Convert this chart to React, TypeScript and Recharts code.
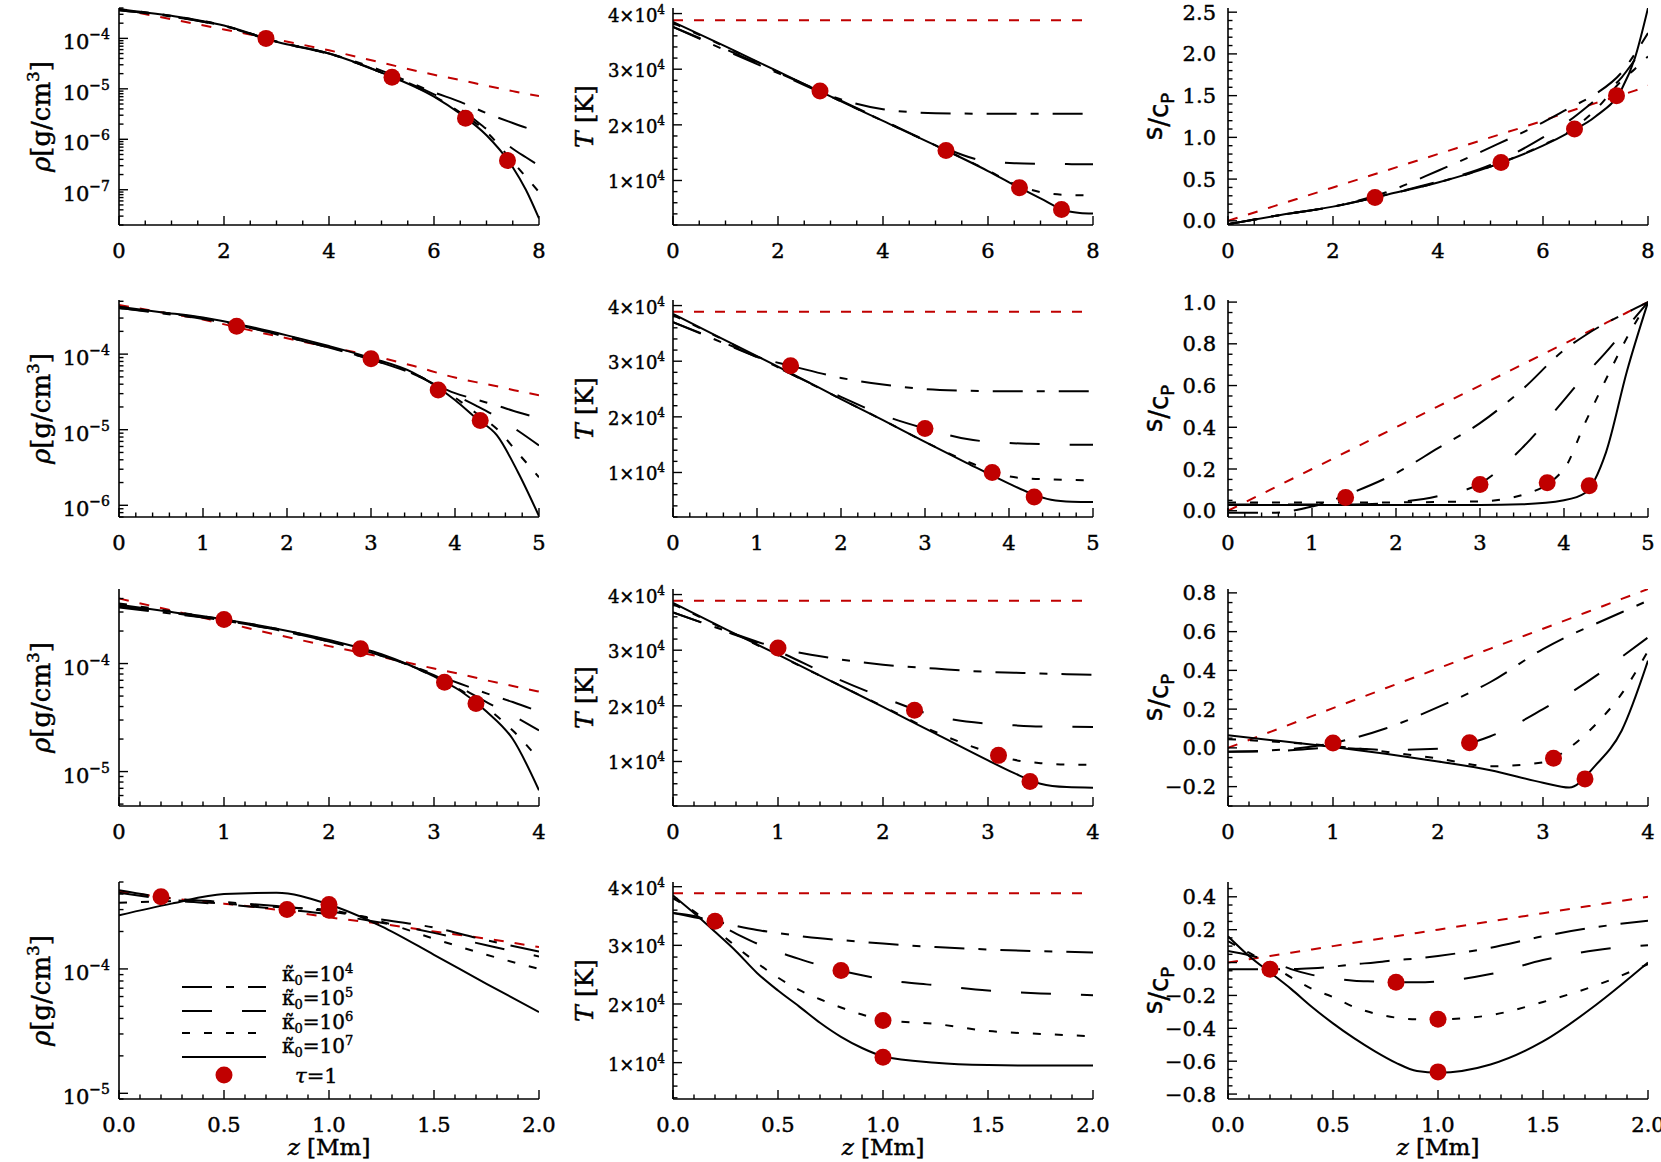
import React from "react";
import { ComposedChart, Line, Scatter, XAxis, YAxis } from "recharts";

const RED = "#c00000";
const SERIF = "'DejaVu Serif', serif";
const SANS = "'DejaVu Sans', sans-serif";

// curves in every panel are listed as [k0=1e4, 1e5, 1e6, 1e7, reference]

// ---- row 1, z = 0..8 Mm
const zRow1 = [0, 1, 2, 3, 4, 5, 6, 6.5, 7, 7.5, 7.75, 8];
const rhoRow1 = [
  [3.6e-4, 2.7e-4, 1.75e-4, 8.7e-5, 5.0e-5, 2.3e-5, 8.5e-6, 5.5e-6, 3.3e-6, 2.1e-6, 1.7e-6, 1.4e-6],
  [3.6e-4, 2.7e-4, 1.75e-4, 8.5e-5, 4.9e-5, 2.1e-5, 7.8e-6, 4.0e-6, 1.6e-6, 6.5e-7, 4.4e-7, 3.0e-7],
  [3.8e-4, 2.8e-4, 1.8e-4, 8.6e-5, 5.0e-5, 2.1e-5, 7.2e-6, 3.4e-6, 1.4e-6, 3.6e-7, 1.8e-7, 9.0e-8],
  [3.8e-4, 2.8e-4, 1.8e-4, 8.6e-5, 5.0e-5, 2.1e-5, 7.0e-6, 3.2e-6, 1.2e-6, 2.8e-7, 1.0e-7, 2.7e-8],
  [3.8e-4, 2.4e-4, 1.5e-4, 9.5e-5, 5.8e-5, 3.3e-5, 1.9e-5, 1.5e-5, 1.15e-5, 9.0e-6, 8.0e-6, 7.2e-6],
];
const tRow1 = [
  [37600, 33400, 29300, 25200, 22800, 22100, 22000, 22000, 22000, 22000, 22000, 22000],
  [37600, 33600, 29400, 25200, 20800, 16500, 13400, 13100, 13000, 12950, 12900, 12900],
  [38300, 34000, 29500, 25100, 20700, 16300, 11800, 9400, 7900, 7400, 7350, 7300],
  [38500, 34100, 29600, 25100, 20700, 16300, 11700, 9200, 6800, 4500, 4150, 4050],
  [38800, 38800, 38800, 38800, 38800, 38800, 38800, 38800, 38800, 38800, 38800, 38800],
];
const sRow1 = [
  [-0.04, 0.07, 0.17, 0.34, 0.6, 0.88, 1.18, 1.35, 1.52, 1.78, 2.0, 2.25],
  [-0.04, 0.07, 0.17, 0.31, 0.47, 0.67, 1.0, 1.2, 1.45, 1.72, 1.93, 2.15],
  [-0.04, 0.07, 0.17, 0.31, 0.46, 0.65, 0.91, 1.07, 1.33, 1.68, 1.82, 1.97],
  [-0.04, 0.07, 0.17, 0.31, 0.46, 0.65, 0.9, 1.06, 1.25, 1.58, 1.95, 2.55],
  [0, 0.2, 0.4, 0.6, 0.8, 1.0, 1.2, 1.31, 1.41, 1.51, 1.56, 1.62],
];
const tauZRow1 = [2.8, 5.2, 6.6, 7.4];
const rhoTau1 = [1.0e-4, 1.7e-5, 2.6e-6, 3.8e-7];
const tTau1 = [26100, 15400, 8700, 4800];
const sTau1 = [0.28, 0.7, 1.1, 1.5];

// ---- row 2, z = 0..5 Mm
const zRow2 = [0, 0.5, 1, 1.5, 2, 2.5, 3, 3.5, 4, 4.25, 4.5, 4.75, 5];
const rhoRow2 = [
  [4.09e-4, 3.47e-4, 2.92e-4, 2.32e-4, 1.68e-4, 1.22e-4, 8.5e-5, 5.5e-5, 3.05e-5, 2.51e-5, 2.08e-5, 1.7e-5, 1.42e-5],
  [4.09e-4, 3.53e-4, 2.98e-4, 2.32e-4, 1.68e-4, 1.22e-4, 8.5e-5, 5.5e-5, 2.86e-5, 2.08e-5, 1.47e-5, 9.7e-6, 6.2e-6],
  [4.22e-4, 3.59e-4, 2.98e-4, 2.32e-4, 1.74e-4, 1.24e-4, 8.7e-5, 5.6e-5, 2.66e-5, 1.66e-5, 1.02e-5, 4.9e-6, 2.35e-6],
  [4.22e-4, 3.59e-4, 3.05e-4, 2.38e-4, 1.77e-4, 1.28e-4, 8.9e-5, 5.7e-5, 2.47e-5, 1.42e-5, 8.4e-6, 2.74e-6, 7.2e-7],
  [4.47e-4, 3.59e-4, 2.86e-4, 2.14e-4, 1.62e-4, 1.24e-4, 9.6e-5, 7.0e-5, 4.9e-5, 4.26e-5, 3.75e-5, 3.25e-5, 2.86e-5],
];
const tRow2 = [
  [37000, 33900, 30800, 28800, 27000, 25800, 25000, 24700, 24600, 24600, 24600, 24600, 24600],
  [37000, 34000, 30700, 27000, 23600, 20300, 17900, 16000, 15300, 15150, 15050, 15000, 15000],
  [38300, 34600, 30800, 27000, 23200, 19400, 15500, 12000, 9300, 8900, 8750, 8650, 8600],
  [38500, 34700, 30900, 27100, 23200, 19400, 15500, 11700, 8000, 6300, 5100, 4750, 4700],
  [38900, 38900, 38900, 38900, 38900, 38900, 38900, 38900, 38900, 38900, 38900, 38900, 38900],
];
const sRow2 = [
  [-0.01, -0.01, 0.02, 0.09, 0.18, 0.3, 0.42, 0.58, 0.77, 0.84, 0.9, 0.95, 1.0],
  [0.03, 0.03, 0.03, 0.03, 0.04, 0.07, 0.13, 0.3, 0.53, 0.65, 0.76, 0.88, 1.0],
  [0.04, 0.04, 0.04, 0.04, 0.04, 0.042, 0.045, 0.075, 0.2, 0.42, 0.63, 0.83, 1.0],
  [0.028, 0.028, 0.028, 0.028, 0.028, 0.028, 0.028, 0.031, 0.05, 0.085, 0.28, 0.67, 1.0],
  [0, 0.1, 0.2, 0.3, 0.4, 0.5, 0.6, 0.7, 0.8, 0.85, 0.9, 0.95, 1.0],
];
const tauZRow2 = [1.4, 3.0, 3.8, 4.3];
const rhoTau2 = [2.33e-4, 8.7e-5, 3.35e-5, 1.32e-5];
const tTau2 = [29200, 17900, 10000, 5600];
const sTau2 = [0.063, 0.126, 0.134, 0.12];

// ---- row 3, z = 0..4 Mm
const zRow3 = [0, 0.5, 1, 1.5, 2, 2.5, 3, 3.25, 3.5, 3.75, 4];
const rhoRow3 = [
  [3.3e-4, 2.9e-4, 2.5e-4, 2.05e-4, 1.6e-4, 1.18e-4, 8.0e-5, 6.5e-5, 5.3e-5, 4.4e-5, 3.6e-5],
  [3.4e-4, 2.95e-4, 2.5e-4, 2.05e-4, 1.6e-4, 1.18e-4, 7.8e-5, 6.0e-5, 4.4e-5, 3.3e-5, 2.4e-5],
  [3.6e-4, 3.05e-4, 2.55e-4, 2.1e-4, 1.63e-4, 1.2e-4, 7.6e-5, 5.7e-5, 3.9e-5, 2.4e-5, 1.3e-5],
  [3.5e-4, 3.0e-4, 2.56e-4, 2.1e-4, 1.65e-4, 1.22e-4, 7.6e-5, 5.6e-5, 3.6e-5, 2.0e-5, 6.7e-6],
  [4.0e-4, 3.1e-4, 2.4e-4, 1.85e-4, 1.45e-4, 1.15e-4, 9.0e-5, 8.0e-5, 7.0e-5, 6.2e-5, 5.5e-5],
];
const tRow3 = [
  [36800, 33500, 30400, 28600, 27400, 26700, 26100, 25950, 25800, 25700, 25600],
  [36800, 33400, 29800, 25400, 21500, 18200, 16800, 16500, 16300, 16250, 16200],
  [38300, 33700, 29100, 24500, 19900, 15300, 11700, 10300, 9700, 9450, 9400],
  [38500, 33800, 29200, 24500, 19800, 15000, 10200, 7900, 6000, 5400, 5300],
  [38900, 38900, 38900, 38900, 38900, 38900, 38900, 38900, 38900, 38900, 38900],
];
const sRow3 = [
  [-0.02, -0.01, 0.025, 0.1, 0.21, 0.34, 0.51, 0.58, 0.64, 0.7, 0.76],
  [-0.02, -0.015, 0.0, -0.01, -0.005, 0.06, 0.2, 0.28, 0.37, 0.47, 0.57],
  [0.045, 0.03, 0.01, -0.02, -0.055, -0.095, -0.075, 0.0, 0.12, 0.28, 0.5],
  [0.065, 0.035, 0.005, -0.03, -0.07, -0.115, -0.18, -0.205, -0.09, 0.09, 0.45],
  [0, 0.1025, 0.205, 0.3075, 0.41, 0.5125, 0.615, 0.666, 0.7175, 0.769, 0.82],
];
const tauZRow3 = [1.0, 2.3, 3.1, 3.4];
const rhoTau3 = [2.56e-4, 1.37e-4, 6.7e-5, 4.27e-5];
const tTau3 = [30400, 19200, 11100, 6400];
const sTau3 = [0.025, 0.027, -0.054, -0.16];

// ---- row 4, z = 0..2 Mm
const zRho4 = [0, 0.25, 0.5, 0.75, 1, 1.25, 1.5, 1.75, 2];
const rhoRow4 = [
  [4.3e-4, 3.7e-4, 3.45e-4, 3.2e-4, 2.9e-4, 2.5e-4, 2.15e-4, 1.7e-4, 1.38e-4],
  [4.1e-4, 3.6e-4, 3.3e-4, 3.05e-4, 2.75e-4, 2.35e-4, 1.95e-4, 1.55e-4, 1.26e-4],
  [3.4e-4, 3.5e-4, 3.35e-4, 3.15e-4, 2.97e-4, 2.4e-4, 1.75e-4, 1.3e-4, 1.0e-4],
  [2.7e-4, 3.35e-4, 4.0e-4, 4.1e-4, 3.3e-4, 2.2e-4, 1.3e-4, 7.6e-5, 4.5e-5],
  [4.2e-4, 3.7e-4, 3.35e-4, 3.0e-4, 2.6e-4, 2.3e-4, 2.0e-4, 1.75e-4, 1.5e-4],
];
const zRow4 = [0, 0.1, 0.2, 0.3, 0.4, 0.5, 0.6, 0.7, 0.8, 0.9, 1.0, 1.25, 1.5, 1.75, 2];
const tRow4 = [
  [35500, 34800, 34100, 33300, 32600, 32100, 31600, 31200, 30900, 30600, 30300, 29700, 29300, 29000, 28800],
  [35500, 35000, 33800, 32000, 30300, 28900, 27700, 26600, 25700, 24900, 24200, 23200, 22300, 21800, 21500],
  [38000, 35800, 32800, 29800, 27000, 24500, 22400, 20800, 19400, 18200, 17300, 16600, 15400, 14900, 14500],
  [38500, 35500, 32300, 29000, 25300, 22300, 19600, 16800, 14400, 12500, 11100, 10000, 9600, 9500, 9500],
  [38900, 38900, 38900, 38900, 38900, 38900, 38900, 38900, 38900, 38900, 38900, 38900, 38900, 38900, 38900],
];
const sRow4 = [
  [-0.04, -0.04, -0.04, -0.04, -0.035, -0.025, -0.01, 0.0, 0.015, 0.025, 0.04, 0.09, 0.16, 0.215, 0.255],
  [0.07, 0.045, 0.01, -0.04, -0.075, -0.095, -0.11, -0.115, -0.12, -0.12, -0.115, -0.07, 0.015, 0.075, 0.105],
  [0.13, 0.06, -0.01, -0.09, -0.16, -0.21, -0.27, -0.31, -0.335, -0.345, -0.345, -0.32, -0.24, -0.14, -0.01],
  [0.16, 0.04, -0.06, -0.16, -0.27, -0.37, -0.46, -0.54, -0.61, -0.66, -0.67, -0.62, -0.48, -0.26, 0.0],
  [0, 0.02, 0.04, 0.06, 0.08, 0.1, 0.12, 0.14, 0.16, 0.18, 0.2, 0.25, 0.3, 0.35, 0.4],
];
const tauZRow4 = [0.2, 0.8, 1.0, 1.0];
const rhoTau4 = [3.8e-4, 3.0e-4, 2.97e-4, 3.3e-4];
const tTau4 = [34100, 25700, 17200, 10900];
const sTau4 = [-0.04, -0.12, -0.345, -0.665];

const legendLabels = ["4", "5", "6", "7"];

// line styles: k0=1e4 dash-dot, 1e5 long dash, 1e6 short dash, 1e7 solid, reference red
const KEYS = ["k4", "k5", "k6", "k7", "ref"];
const DASH = ["30 14 8 14", "30 30", "8 14", undefined, "10 11"];
const COLOR = ["#000", "#000", "#000", "#000", RED];

const PW = 420;
const PH = 217;
const YW = 110;
const MT = 14;
const MR = 20;
const XH = 64;
const colLeft = [119, 673, 1228];
const rowTop = [8, 300, 589, 882];

type Kind = "rho" | "T" | "s";
type Spec = {
  col: number;
  row: number;
  kind: Kind;
  z: number[];
  curves: number[][];
  tauZ: number[];
  tau: number[];
  xMax: number;
  xMajor: number;
  xMinor: number;
  yDomain: [number, number];
  yMajor?: number;
  yMinor?: number;
};

const xRows = [
  { xMax: 8, xMajor: 2, xMinor: 0.5 },
  { xMax: 5, xMajor: 1, xMinor: 0.2 },
  { xMax: 4, xMajor: 1, xMinor: 0.2 },
  { xMax: 2, xMajor: 0.5, xMinor: 0.1 },
];

const panels: Spec[] = [
  { col: 0, row: 0, kind: "rho", z: zRow1, curves: rhoRow1, tauZ: tauZRow1, tau: rhoTau1, ...xRows[0], yDomain: [2e-8, 4e-4] },
  { col: 1, row: 0, kind: "T", z: zRow1, curves: tRow1, tauZ: tauZRow1, tau: tTau1, ...xRows[0], yDomain: [2000, 41000], yMajor: 10000, yMinor: 2000 },
  { col: 2, row: 0, kind: "s", z: zRow1, curves: sRow1, tauZ: tauZRow1, tau: sTau1, ...xRows[0], yDomain: [-0.05, 2.55], yMajor: 0.5, yMinor: 0.1 },
  { col: 0, row: 1, kind: "rho", z: zRow2, curves: rhoRow2, tauZ: tauZRow2, tau: rhoTau2, ...xRows[1], yDomain: [7e-7, 5.2e-4] },
  { col: 1, row: 1, kind: "T", z: zRow2, curves: tRow2, tauZ: tauZRow2, tau: tTau2, ...xRows[1], yDomain: [2000, 41000], yMajor: 10000, yMinor: 2000 },
  { col: 2, row: 1, kind: "s", z: zRow2, curves: sRow2, tauZ: tauZRow2, tau: sTau2, ...xRows[1], yDomain: [-0.03, 1.01], yMajor: 0.2, yMinor: 0.05 },
  { col: 0, row: 2, kind: "rho", z: zRow3, curves: rhoRow3, tauZ: tauZRow3, tau: rhoTau3, ...xRows[2], yDomain: [4.8e-6, 4.9e-4] },
  { col: 1, row: 2, kind: "T", z: zRow3, curves: tRow3, tauZ: tauZRow3, tau: tTau3, ...xRows[2], yDomain: [2000, 41000], yMajor: 10000, yMinor: 2000 },
  { col: 2, row: 2, kind: "s", z: zRow3, curves: sRow3, tauZ: tauZRow3, tau: sTau3, ...xRows[2], yDomain: [-0.3, 0.82], yMajor: 0.2, yMinor: 0.05 },
  { col: 0, row: 3, kind: "rho", z: zRho4, curves: rhoRow4, tauZ: tauZRow4, tau: rhoTau4, ...xRows[3], yDomain: [9e-6, 5e-4] },
  { col: 1, row: 3, kind: "T", z: zRow4, curves: tRow4, tauZ: tauZRow4, tau: tTau4, ...xRows[3], yDomain: [3800, 40800], yMajor: 10000, yMinor: 2000 },
  { col: 2, row: 3, kind: "s", z: zRow4, curves: sRow4, tauZ: tauZRow4, tau: sTau4, ...xRows[3], yDomain: [-0.83, 0.49], yMajor: 0.2, yMinor: 0.05 },
];

// tick helpers
const stepTicks = (lo: number, hi: number, step: number) => {
  const out: number[] = [];
  const start = Math.ceil(lo / step - 1e-9);
  for (let i = start; i * step <= hi + 1e-9; i++) out.push(+(i * step).toFixed(6));
  return out;
};
const logTicks = (lo: number, hi: number) => {
  const out: number[] = [];
  for (let e = Math.floor(Math.log10(lo)); e <= Math.ceil(Math.log10(hi)); e++) {
    for (let m = 1; m <= 9; m++) {
      const v = +(m * Math.pow(10, e)).toPrecision(3);
      if (v >= lo && v <= hi) out.push(v);
    }
  }
  return out;
};
const onStep = (v: number, step: number) => Math.abs(v / step - Math.round(v / step)) < 1e-6;
const isDecade = (v: number) => Math.abs(Math.log10(v) - Math.round(Math.log10(v))) < 1e-6;

const fmtS = (v: number) => {
  const r = Math.round(v * 100) / 100;
  return (r < 0 ? "\u2212" : "") + Math.abs(r).toFixed(1);
};

const INK = { fill: "#000", stroke: "#000", strokeWidth: 0.45 };

function yMajorOf(spec: Spec, v: number) {
  return spec.kind === "rho" ? isDecade(v) : onStep(v, spec.yMajor as number);
}

function yLabel(spec: Spec, v: number, x: number, y: number) {
  if (spec.kind === "rho") {
    const e = Math.round(Math.log10(v));
    return (
      <text x={x - 9} y={y + 11} textAnchor="end" fontFamily={SERIF} fontSize={21} {...INK}>
        10
        <tspan dy={-10} fontSize={14}>{"\u2212" + Math.abs(e)}</tspan>
      </text>
    );
  }
  if (spec.kind === "T") {
    return (
      <text x={x - 8} y={y + 8} textAnchor="end" fontFamily={SERIF} fontSize={18} {...INK}>
        {Math.round(v / 10000) + "\u00d710"}
        <tspan dy={-8} fontSize={12}>4</tspan>
      </text>
    );
  }
  return (
    <text x={x - 12} y={y + 7.5} textAnchor="end" fontFamily={SERIF} fontSize={21} {...INK}>
      {fmtS(v)}
    </text>
  );
}

function Titles({ spec }: { spec: Spec }) {
  const cy = MT + PH / 2;
  const last = spec.row === 3;
  let title: React.ReactNode = null;
  if (spec.kind === "rho") {
    const bx = YW - 69;
    title = (
      <text transform={`translate(${bx},${cy}) rotate(-90)`} textAnchor="middle" fontFamily={SERIF} fontSize={26} {...INK}>
        <tspan fontStyle="italic">ρ</tspan>[g/cm
        <tspan dy={-11} fontSize={17}>3</tspan>
        <tspan dy={11}>]</tspan>
      </text>
    );
  } else if (spec.kind === "T") {
    const bx = YW - 80;
    title = (
      <text transform={`translate(${bx},${cy}) rotate(-90)`} textAnchor="middle" fontFamily={SERIF} fontSize={25} {...INK}>
        <tspan fontStyle="italic">T</tspan> [K]
      </text>
    );
  } else {
    const bx = YW - 60;
    title = (
      <text transform={`translate(${bx},${cy}) rotate(-90)`} textAnchor="middle" fontFamily={SANS} fontSize={26} {...INK}>
        <tspan dy={-6}>s</tspan>
        <tspan dy={6}>/c</tspan>
        <tspan dy={6} fontSize={18}>P</tspan>
      </text>
    );
  }
  return (
    <svg width={YW + PW + MR} height={MT + PH + XH} style={{ position: "absolute", left: 0, top: 0, pointerEvents: "none" }}>
      {title}
      {last && (
        <text x={YW + PW / 2} y={MT + PH + 56} textAnchor="middle" fontFamily={SERIF} fontSize={23} {...INK}>
          <tspan fontStyle="italic">z</tspan> [Mm]
        </text>
      )}
      {spec.kind === "rho" && last && <LegendBox />}
    </svg>
  );
}

function LegendBox() {
  const x0 = YW + 63;
  const x1 = YW + 147;
  const tx = YW + 163;
  const lineY = [105, 129, 151, 175];
  const textY = [99, 123, 147, 171];
  return (
    <g>
      {lineY.map((ry, i) => (
        <g key={i}>
          <line x1={x0} x2={x1} y1={MT + ry} y2={MT + ry} stroke="#000" strokeWidth={2} strokeDasharray={DASH[i]} />
          <text x={tx} y={MT + textY[i]} fontFamily={SERIF} fontSize={20} {...INK}>
            {"\u03ba\u0303"}
            <tspan dy={4} fontSize={13}>0</tspan>
            <tspan dy={-4}>=10</tspan>
            <tspan dy={-8} fontSize={13}>{legendLabels[i]}</tspan>
          </text>
        </g>
      ))}
      <circle cx={(x0 + x1) / 2} cy={MT + 193} r={8.5} fill={RED} />
      <text x={YW + 176} y={MT + 201} fontFamily={SERIF} fontSize={21} {...INK}>
        <tspan fontStyle="italic">τ</tspan>=1
      </text>
    </g>
  );
}

function Panel({ spec }: { spec: Spec }) {
  const rows = spec.z.map((z, i) => {
    const r: Record<string, number> = { z };
    spec.curves.forEach((c, j) => (r[KEYS[j]] = c[i]));
    return r;
  });
  const dots = spec.tauZ.map((z, i) => ({ z, tau: spec.tau[i] }));
  const xTicks = stepTicks(0, spec.xMax, spec.xMinor);
  const [lo, hi] = spec.yDomain;
  const yTicks = spec.kind === "rho" ? logTicks(lo, hi) : stepTicks(lo, hi, spec.yMinor as number);
  const xFmt = (v: number) => (spec.row === 3 ? v.toFixed(1) : String(Math.round(v)));
  const axisLine = { stroke: "#000", strokeWidth: 1.6 };

  const bottomTick = (p: any) => {
    const v = p.payload.value;
    const major = onStep(v, spec.xMajor);
    return (
      <g>
        <line x1={p.x} x2={p.x} y1={p.y} y2={p.y - (major ? 9 : 4.5)} stroke="#000" strokeWidth={1.4} />
        {major && (
          <text x={p.x} y={p.y + 33} textAnchor="middle" fontFamily={SERIF} fontSize={21} {...INK}>
            {xFmt(v)}
          </text>
        )}
      </g>
    );
  };
  const topTick = (p: any) => {
    const major = onStep(p.payload.value, spec.xMajor);
    return <line x1={p.x} x2={p.x} y1={p.y} y2={p.y + (major ? 9 : 4.5)} stroke="#000" strokeWidth={1.4} />;
  };
  const leftTick = (p: any) => {
    const v = p.payload.value;
    const major = yMajorOf(spec, v);
    return (
      <g>
        <line x1={p.x} x2={p.x + (major ? 9 : 4.5)} y1={p.y} y2={p.y} stroke="#000" strokeWidth={1.4} />
        {major && yLabel(spec, v, p.x, p.y)}
      </g>
    );
  };
  const rightTick = (p: any) => {
    const major = yMajorOf(spec, p.payload.value);
    return <line x1={p.x} x2={p.x - (major ? 9 : 4.5)} y1={p.y} y2={p.y} stroke="#000" strokeWidth={1.4} />;
  };

  const W = YW + PW + MR;
  const H = MT + PH + XH;
  const yScale = spec.kind === "rho" ? "log" : "linear";

  return (
    <div style={{ position: "absolute", left: colLeft[spec.col] - YW, top: rowTop[spec.row] - MT, width: W, height: H }}>
      <ComposedChart width={W} height={H} data={rows} margin={{ top: MT, right: MR, bottom: 0, left: 0 }}>
        <XAxis
          xAxisId="b"
          dataKey="z"
          type="number"
          domain={[0, spec.xMax]}
          ticks={xTicks}
          interval={0}
          tickSize={0}
          tickMargin={0}
          tickLine={false}
          axisLine={axisLine}
          tick={bottomTick}
          height={XH}
          allowDataOverflow
        />
        <XAxis
          xAxisId="t"
          dataKey="z"
          type="number"
          orientation="top"
          domain={[0, spec.xMax]}
          ticks={xTicks}
          interval={0}
          tickSize={0}
          tickMargin={0}
          tickLine={false}
          axisLine={axisLine}
          tick={topTick}
          height={0}
          allowDataOverflow
        />
        <YAxis
          yAxisId="l"
          type="number"
          scale={yScale}
          domain={spec.yDomain}
          ticks={yTicks}
          interval={0}
          tickSize={0}
          tickMargin={0}
          tickLine={false}
          axisLine={axisLine}
          tick={leftTick}
          width={YW}
          allowDataOverflow
        />
        <YAxis
          yAxisId="r"
          type="number"
          orientation="right"
          scale={yScale}
          domain={spec.yDomain}
          ticks={yTicks}
          interval={0}
          tickSize={0}
          tickMargin={0}
          tickLine={false}
          axisLine={axisLine}
          tick={rightTick}
          width={0}
          allowDataOverflow
        />
        <Line
          xAxisId="t"
          yAxisId="r"
          dataKey="ref"
          stroke="none"
          dot={false}
          activeDot={false}
          isAnimationActive={false}
        />
        {[4, 0, 1, 2, 3].map((j) => (
          <Line
            key={KEYS[j]}
            xAxisId="b"
            yAxisId="l"
            type="monotone"
            dataKey={KEYS[j]}
            stroke={COLOR[j]}
            strokeWidth={2}
            strokeDasharray={DASH[j]}
            dot={false}
            activeDot={false}
            isAnimationActive={false}
          />
        ))}
        <Scatter
          xAxisId="b"
          yAxisId="l"
          data={dots}
          dataKey="tau"
          fill={RED}
          isAnimationActive={false}
          shape={(p: any) => <circle cx={p.cx} cy={p.cy} r={8.5} fill={RED} />}
        />
      </ComposedChart>
      <Titles spec={spec} />
    </div>
  );
}

export default function App() {
  return (
    <div style={{ position: "absolute", left: 0, top: 0, width: 1661, height: 1162, background: "#fff", overflow: "hidden" }}>
      {panels.map((p) => (
        <Panel key={`${p.row}-${p.col}`} spec={p} />
      ))}
    </div>
  );
}
